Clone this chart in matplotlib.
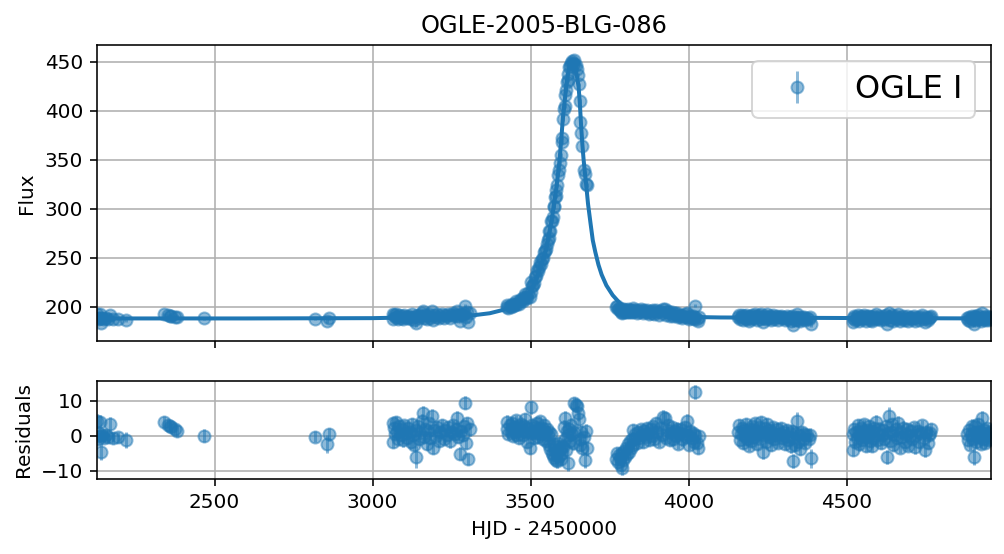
import matplotlib.pyplot as plt

# observations, grouped by observing season (HJD - 2450000)
hjd = [
    2128, 2130, 2133, 2136, 2139, 2142, 2145, 2150, 2158, 2164, 2170, 2179, 2194, 2219,
    2339, 2353, 2358, 2363, 2374, 2381,
    2467,
    2819, 2856, 2862,
    3064, 3066, 3069, 3072, 3075, 3078, 3081, 3085, 3089, 3093, 3097, 3101, 3105, 3109, 3113, 3117,
    3121, 3125, 3128, 3132, 3136, 3139, 3143, 3147, 3151, 3155, 3160, 3163, 3167, 3171, 3175, 3179,
    3183, 3187, 3192, 3196, 3200, 3205, 3210, 3215, 3220, 3225, 3230, 3235, 3240, 3245, 3250, 3255,
    3260, 3265, 3268, 3272, 3276, 3280, 3285, 3290, 3294, 3296, 3299, 3301, 3308,
    3424, 3427, 3430, 3434, 3437, 3441, 3444, 3448, 3451, 3455, 3458, 3462, 3465, 3469, 3472, 3476,
    3479, 3483, 3486, 3490, 3493, 3497, 3500, 3503, 3506, 3509, 3512, 3515, 3518, 3521, 3524, 3527,
    3530, 3533, 3536, 3539, 3542, 3545, 3548, 3551, 3554, 3557, 3560, 3563, 3566, 3568, 3570, 3573,
    3575, 3578, 3580, 3582, 3585, 3587, 3590, 3592, 3595, 3598, 3600, 3603, 3605, 3608, 3610, 3613,
    3615, 3618, 3619, 3622, 3625, 3628, 3631, 3634, 3637, 3639, 3643, 3646, 3649, 3652, 3655, 3658,
    3661, 3664, 3670, 3673, 3676, 3678,
    3772, 3775, 3778, 3781, 3783, 3786, 3788, 3790, 3793, 3796, 3799, 3802, 3805, 3808, 3811, 3814,
    3817, 3820, 3823, 3825, 3828, 3832, 3836, 3840, 3844, 3848, 3852, 3856, 3860, 3864, 3868, 3872,
    3876, 3880, 3884, 3888, 3892, 3897, 3901, 3905, 3910, 3915, 3920, 3925, 3928, 3932, 3936, 3940,
    3944, 3948, 3952, 3956, 3960, 3964, 3968, 3972, 3976, 3980, 3984, 3988, 3992, 3994, 3998, 4002,
    4006, 4010, 4014, 4018, 4020, 4022, 4026, 4030, 4033,
    4157, 4160, 4163, 4166, 4169, 4172, 4175, 4178, 4181, 4184, 4187, 4190, 4193, 4196, 4199, 4202,
    4205, 4208, 4211, 4214, 4217, 4220, 4223, 4226, 4229, 4232, 4236, 4239, 4242, 4245, 4248, 4251,
    4254, 4257, 4260, 4264, 4268, 4272, 4276, 4280, 4284, 4288, 4292, 4296, 4300, 4304, 4308, 4312,
    4316, 4320, 4324, 4327, 4329, 4332, 4336, 4340, 4344, 4347, 4350, 4354, 4358, 4362, 4366, 4370,
    4375, 4380, 4384, 4386,
    4520, 4522, 4525, 4528, 4531, 4534, 4537, 4540, 4543, 4546, 4549, 4552, 4555, 4558, 4561, 4564,
    4567, 4570, 4573, 4576, 4579, 4582, 4585, 4588, 4592, 4596, 4600, 4604, 4608, 4612, 4616, 4620,
    4624, 4628, 4631, 4633, 4636, 4640, 4644, 4648, 4652, 4656, 4660, 4664, 4668, 4672, 4676, 4680,
    4684, 4688, 4692, 4696, 4700, 4704, 4708, 4712, 4716, 4720, 4725, 4730, 4735, 4740, 4744, 4749,
    4753, 4757, 4761, 4765, 4768,
    4881, 4885, 4888, 4891, 4894, 4897, 4900, 4903, 4906, 4907, 4910, 4913, 4916, 4919, 4922, 4925,
    4928, 4930, 4933, 4936, 4939, 4942, 4945, 4948, 4951, 4954, 4957,
]

flux = [
    192.5, 187.3, 189.2, 192.4, 188.3, 183.8, 188.5, 187.7, 188.6, 188.1, 191.7, 187.6, 187.9, 187.2,
    192.4, 191.4, 191.1, 190.8, 190.2, 189.8,
    188.4,
    188.2, 186.0, 188.9,
    192.6, 187.4, 191.4, 189.5, 192.9, 190.2, 188.2, 191.8, 189.2, 190.9, 187.8, 192.1, 189.8, 188.5, 191.2, 190.0,
    187.4, 192.7, 189.7, 186.7, 190.9, 183.2, 192.3, 188.4, 190.4, 193.9, 196.0, 189.2, 191.5, 187.3, 190.9, 193.2,
    188.9, 195.4, 186.3, 191.6, 189.8, 192.5, 188.6, 191.1, 193.3, 189.2, 192.0, 190.7, 193.0, 189.0, 191.5, 193.6,
    191.2, 192.8, 195.8, 190.5, 185.8, 192.6, 191.4, 194.0, 201.0, 189.5, 195.3, 185.0, 193.4,
    199.5, 202.0, 198.5, 201.5, 200.3, 203.5, 200.5, 203.3, 202.3, 206.5, 202.8, 206.0, 203.4, 208.0, 207.0, 206.5,
    210.0, 213.0, 210.5, 209.0, 214.0, 210.0, 215.5, 225.0, 221.0, 222.0, 224.5, 231.0, 232.0, 238.0, 236.5, 241.0,
    245.5, 244.0, 249.0, 250.0, 256.0, 257.5, 259.0, 264.0, 268.0, 270.0, 278.0, 278.0, 288.0, 288.0, 292.0, 302.0,
    303.0, 312.0, 313.0, 319.0, 324.0, 335.0, 340.0, 347.0, 355.0, 368.0, 372.0, 392.0, 402.0, 405.0, 416.0, 421.0,
    430.0, 438.0, 432.0, 445.0, 446.0, 449.0, 451.0, 449.0, 448.0, 452.0, 447.0, 443.0, 437.0, 427.0, 410.0, 389.0,
    377.0, 364.0, 340.0, 336.0, 325.5, 324.0,
    200.0, 201.0, 197.5, 198.5, 197.0, 195.0, 193.5, 197.5, 195.0, 197.5, 195.0, 197.0, 195.0, 197.5, 194.5, 197.0,
    194.5, 196.5, 194.5, 198.5, 195.5, 197.0, 194.0, 197.0, 195.3, 197.5, 195.6, 193.4, 196.5, 194.6, 197.0, 195.3,
    193.2, 196.2, 194.2, 196.8, 193.0, 197.3, 194.5, 191.8, 195.4, 193.4, 198.4, 198.0, 192.1, 194.4, 195.5, 191.1,
    193.2, 194.7, 191.3, 193.4, 192.0, 193.8, 189.5, 190.7, 192.0, 189.0, 190.5, 192.5, 189.6, 194.3, 190.0, 187.3,
    191.0, 189.2, 190.6, 188.0, 201.5, 190.0, 187.6, 186.0, 189.5,
    190.0, 192.1, 187.8, 189.5, 191.4, 187.0, 190.6, 189.0, 192.3, 188.1, 190.2, 186.2, 191.0, 189.3, 187.5, 191.9,
    189.8, 188.6, 192.6, 190.4, 186.8, 189.6, 191.5, 188.2, 192.9, 190.1, 184.5, 189.2, 191.2, 187.4, 192.4, 189.7,
    188.7, 190.8, 186.5, 189.9, 191.6, 188.0, 189.4, 190.9, 187.1, 189.6, 191.3, 188.5, 190.2, 186.7, 189.0, 190.7,
    187.8, 189.8, 186.0, 190.5, 181.7, 188.4, 186.4, 189.9, 193.3, 187.2, 189.3, 185.4, 190.0, 188.1, 189.5, 187.0,
    189.2, 188.2, 189.4, 182.6,
    184.6, 189.1, 190.6, 186.8, 189.6, 188.0, 191.6, 186.2, 188.9, 190.8, 187.5, 190.1, 192.0, 188.4, 185.8, 190.4,
    188.6, 191.3, 187.1, 189.4, 185.6, 189.9, 188.1, 191.0, 192.7, 187.4, 189.2, 190.7, 186.6, 189.0, 190.3, 187.7,
    191.5, 182.7, 189.3, 194.3, 187.1, 189.8, 191.9, 186.0, 188.8, 190.6, 187.9, 192.4, 185.2, 189.6, 188.2, 191.0,
    186.8, 189.2, 190.5, 185.7, 188.7, 190.1, 187.6, 191.2, 185.4, 189.0, 189.9, 187.0, 189.5, 191.6, 188.1, 184.6,
    189.8, 186.7, 188.9, 189.4, 190.6,
    189.0, 187.2, 190.2, 185.9, 188.6, 191.3, 187.6, 182.3, 189.5, 191.1, 186.8, 188.9, 191.7, 188.1, 189.8, 186.2,
    189.2, 193.4, 187.5, 190.0, 186.5, 188.8, 190.6, 187.2, 189.3, 187.9, 189.7,
]

resid = [
    4.4, -1.0, 0.9, 4.1, 0.0, -4.5, 0.2, -0.6, 0.3, -0.2, 3.4, -0.7, -0.4, -1.1,
    4.1, 3.1, 2.8, 2.5, 1.9, 1.5,
    0.1,
    -0.2, -2.4, 0.5,
    3.6, -1.6, 2.4, 0.5, 3.9, 1.2, -0.8, 2.8, 0.2, 1.9, -1.2, 3.1, 0.8, -0.5, 2.2, 1.0,
    -1.8, 3.4, 0.4, -2.6, 1.6, -6.1, 2.9, -1.0, 0.9, 4.4, 6.5, -0.3, 2.0, -2.2, 1.3, 3.6,
    -0.7, 5.7, -3.5, 1.8, 0.0, 2.6, -1.4, 1.1, 3.2, -0.9, 1.7, 0.3, 2.5, -1.5, 1.0, 3.0,
    0.6, 2.1, 5.0, -0.4, -5.1, 1.5, 0.2, 2.7, 9.5, -2.0, 3.8, -6.6, 1.9,
    2.0, 4.1, 0.6, 3.0, 1.2, 3.6, 0.1, 2.5, 1.0, 4.5, 0.4, 2.8, -0.6, 3.3, 1.5, 0.2,
    2.9, 4.8, 1.1, -1.8, 2.2, -3.5, 0.8, 8.2, 3.0, 1.4, -0.5, 2.6, 0.9, 3.8, -0.2, 1.9,
    4.2, 0.5, 2.4, -0.9, 3.1, 1.0, -1.5, 2.0, 0.3, -2.6, 1.2, -3.8, 0.5, -5.0, -5.4, -2.2,
    -6.2, -3.0, -6.8, -4.4, -7.3, -2.0, -5.8, -3.6, -6.5, -2.8, -4.9, -3.3, 2.5, -1.0, 5.1, -4.0,
    1.5, 0.4, -7.8, 2.0, -1.5, 3.1, 0.5, -2.0, 1.2, 9.3, 8.9, 8.6, 6.5, 4.8, -0.8, -2.6,
    1.2, -3.5, -0.4, -6.9, 1.5, -3.5,
    -6.6, -4.8, -7.5, -5.5, -6.4, -8.2, -9.2, -5.0, -7.0, -4.2, -6.1, -3.5, -5.3, -2.4, -4.6, -1.5,
    -3.4, -0.8, -2.6, 1.7, -1.0, 0.6, -2.0, 1.2, -0.5, 2.0, 0.3, -1.8, 1.5, -0.2, 2.4, 0.8,
    -1.2, 1.9, 0.0, 2.8, -0.9, 3.6, 1.0, -1.6, 2.2, 0.4, 5.5, 5.2, -0.6, 1.8, 3.0, -1.3,
    0.9, 2.5, -0.8, 1.4, 0.1, 2.0, -2.2, 0.7, 1.9, -1.0, 0.5, 2.6, -0.3, 4.4, 0.2, -2.5,
    1.3, -0.6, 0.9, -1.7, 12.6, 0.4, -2.0, -3.5, 0.0,
    1.0, 3.1, -1.2, 0.5, 2.4, -2.0, 1.6, 0.0, 3.3, -0.9, 1.2, -2.8, 2.0, 0.3, -1.5, 2.9,
    0.8, -0.4, 3.6, 1.4, -2.2, 0.6, 2.5, -0.8, 3.9, 1.1, -4.5, 0.2, 2.2, -1.6, 3.4, 0.7,
    -0.3, 1.8, -2.5, 0.9, 2.6, -1.0, 0.4, 1.9, -1.9, 0.6, 2.3, -0.5, 1.2, -2.3, 0.0, 1.7,
    -1.2, 0.8, -3.0, 1.5, -7.3, -0.6, -2.6, 0.9, 4.3, -1.8, 0.3, -3.6, 1.0, -0.9, 0.5, -2.0,
    0.2, -0.8, 0.4, -6.4,
    -4.0, 0.5, 2.0, -1.8, 1.0, -0.6, 3.0, -2.4, 0.3, 2.2, -1.1, 1.5, 3.4, -0.2, -2.8, 1.8,
    0.0, 2.7, -1.5, 0.8, -3.0, 1.3, -0.5, 2.4, 4.1, -1.2, 0.6, 2.1, -2.0, 0.4, 1.7, -0.9,
    2.9, -5.9, 0.7, 5.7, -1.5, 1.2, 3.3, -2.6, 0.2, 2.0, -0.7, 3.8, -3.4, 1.0, -0.4, 2.4,
    -1.8, 0.6, 1.9, -2.9, 0.1, 1.5, -1.0, 2.6, -3.2, 0.4, 1.3, -1.6, 0.9, 3.0, -0.5, -4.0,
    1.2, -1.9, 0.3, 0.8, 2.0,
    0.6, -1.2, 1.8, -2.5, 0.2, 2.9, -0.8, -6.1, 1.1, 2.7, -1.6, 0.5, 3.3, -0.3, 1.4, -2.2,
    0.8, 5.0, -0.9, 1.6, -1.9, 0.4, 2.2, -1.2, 0.9, -0.5, 1.3,
]

flux_err = [
    2.0, 1.6, 1.5, 1.8, 1.6, 2.4, 1.7, 1.5, 1.6, 1.8, 1.9, 1.7, 1.6, 2.3,
    1.5, 1.6, 1.4, 1.5, 1.6, 1.7,
    1.8,
    1.6, 2.6, 1.9,
    1.6, 1.8, 1.5, 1.7, 1.9, 1.6, 1.5, 1.8, 1.7, 1.6, 1.9, 1.5, 1.6, 1.8, 1.7, 1.5,
    1.9, 1.6, 1.7, 1.8, 1.6, 3.2, 1.7, 1.5, 1.6, 1.9, 2.0, 1.6, 1.7, 1.8, 1.5, 1.6,
    1.7, 1.9, 1.8, 1.6, 1.5, 1.7, 1.8, 1.6, 1.7, 1.5, 1.6, 1.8, 1.7, 1.9, 1.6, 1.5,
    1.7, 1.8, 2.1, 1.6, 1.9, 1.7, 1.6, 1.8, 1.9, 1.7, 1.6, 1.8, 1.9,
    1.7, 1.9, 1.6, 1.8, 1.5, 1.7, 1.6, 1.9, 1.8, 1.6, 1.7, 1.5, 1.8, 1.6, 1.9, 1.7,
    1.6, 1.8, 1.5, 1.7, 1.6, 1.8, 1.9, 1.9, 1.7, 1.6, 1.8, 1.5, 1.7, 1.6, 1.8, 1.9,
    1.6, 1.7, 1.5, 1.8, 1.6, 1.7, 1.9, 1.6, 1.8, 1.7, 1.6, 1.9, 1.8, 1.7, 1.6, 2.0,
    1.8, 1.7, 1.9, 1.8, 2.0, 1.7, 1.9, 1.8, 1.7, 2.0, 1.9, 1.8, 2.0, 1.9, 2.1, 1.8,
    2.0, 1.9, 2.2, 2.0, 1.9, 2.1, 2.0, 1.9, 2.1, 1.9, 2.0, 1.8, 2.1, 1.9, 2.0, 1.8,
    1.9, 2.0, 1.8, 2.2, 1.9, 2.1,
    1.8, 1.6, 1.9, 1.7, 1.6, 1.8, 2.0, 1.7, 1.6, 1.8, 1.5, 1.7, 1.6, 1.8, 1.7, 1.5,
    1.6, 1.8, 1.7, 1.6, 1.9, 1.5, 1.7, 1.6, 1.8, 1.5, 1.7, 1.6, 1.9, 1.5, 1.7, 1.6,
    1.8, 1.5, 1.7, 1.6, 1.8, 1.9, 1.5, 1.7, 1.6, 1.8, 1.9, 1.7, 1.5, 1.6, 1.8, 1.7,
    1.6, 1.5, 1.8, 1.7, 1.6, 1.9, 1.5, 1.7, 1.6, 1.8, 1.5, 1.7, 1.6, 1.8, 1.7, 1.5,
    1.6, 1.8, 1.7, 1.6, 2.0, 1.7, 1.6, 1.8, 1.7,
    1.7, 1.6, 1.8, 1.5, 1.7, 1.6, 1.9, 1.5, 1.7, 1.6, 1.8, 1.5, 1.7, 1.6, 1.8, 1.5,
    1.7, 1.9, 1.6, 1.5, 1.7, 1.8, 1.6, 1.5, 1.7, 1.6, 2.1, 1.5, 1.8, 1.6, 1.7, 1.5,
    1.8, 1.6, 1.7, 1.9, 1.5, 1.6, 1.8, 1.7, 1.5, 1.6, 1.8, 1.7, 1.5, 1.6, 1.8, 1.7,
    1.6, 1.5, 1.9, 1.7, 2.0, 1.6, 1.8, 1.7, 2.4, 1.6, 1.8, 1.9, 1.7, 1.6, 1.8, 1.5,
    1.7, 1.6, 1.8, 2.8,
    1.8, 1.6, 1.7, 1.5, 1.8, 1.6, 1.7, 1.9, 1.5, 1.6, 1.8, 1.7, 1.5, 1.6, 1.8, 1.7,
    1.5, 1.9, 1.6, 1.7, 1.5, 1.8, 1.6, 1.7, 1.9, 1.5, 1.6, 1.8, 1.7, 1.5, 1.6, 1.8,
    1.7, 2.0, 1.6, 2.6, 1.7, 1.5, 1.8, 1.6, 1.7, 1.9, 1.5, 1.8, 1.6, 1.7, 1.5, 1.8,
    1.6, 1.7, 1.9, 1.5, 1.6, 1.8, 1.7, 1.5, 1.9, 1.6, 1.7, 1.8, 1.6, 1.5, 1.7, 1.9,
    1.6, 1.8, 1.7, 1.6, 1.8,
    1.7, 1.6, 1.8, 1.5, 1.7, 1.9, 1.6, 2.3, 1.7, 1.6, 1.8, 1.5, 1.7, 1.6, 1.8, 1.5,
    1.7, 2.2, 1.6, 1.8, 1.5, 1.7, 1.6, 1.8, 1.7, 1.6, 1.8,
]

# fitted model curve
model_hjd = [2128, 2600, 3000, 3128, 3250, 3318, 3371, 3413, 3466, 3497, 3518, 3534, 3550,
             3566, 3582, 3592, 3603, 3608, 3613, 3618, 3625, 3632, 3640, 3648, 3652, 3656,
             3660, 3664, 3668, 3672, 3676, 3682, 3690, 3697, 3705, 3715, 3725, 3740, 3760,
             3785, 3800, 3824, 3870, 3900, 3972, 4100, 4300, 4600, 4957]
model_flux = [188.3, 188.3, 188.6, 189.4, 190.6, 191.5, 193.6, 197.0, 204.0, 213.0, 228.0,
              242.0, 260.0, 287.0, 322.0, 350.0, 395.0, 410.0, 425.0, 437.0, 448.0, 452.0,
              447.0, 433.0, 425.0, 408.0, 385.0, 366.0, 350.0, 337.0, 325.0, 305.0, 285.0,
              268.0, 256.0, 243.0, 233.0, 222.0, 212.0, 203.0, 199.0, 195.0, 193.0, 192.0,
              190.0, 189.3, 189.0, 188.6, 188.3]

fig = plt.figure(figsize=(1004 / 144, 554 / 144), dpi=144)
ax1 = fig.add_axes([0.0966, 0.3845, 0.8904, 0.5343])
ax2 = fig.add_axes([0.0966, 0.1354, 0.8904, 0.1769], sharex=ax1)

ax1.errorbar(hjd, flux, yerr=flux_err, fmt='o', alpha=0.5, label='OGLE I')
ax1.plot(model_hjd, model_flux, color='C0', lw=2)
ax1.set_title('OGLE-2005-BLG-086')
ax1.set_ylabel('Flux')
ax1.set_ylim(165.3, 467.3)
ax1.grid(True)
ax1.legend(loc='upper right', fontsize=16)
ax1.tick_params(labelbottom=False)

ax2.errorbar(hjd, resid, yerr=flux_err, fmt='o', alpha=0.5)
ax2.set_ylabel('Residuals')
ax2.set_xlabel('HJD - 2450000')
ax2.set_ylim(-12.3, 15.7)
ax2.set_xlim(2128, 4957)
ax2.grid(True)

fig.align_ylabels([ax1, ax2])
fig.savefig('out.png', dpi=144)
